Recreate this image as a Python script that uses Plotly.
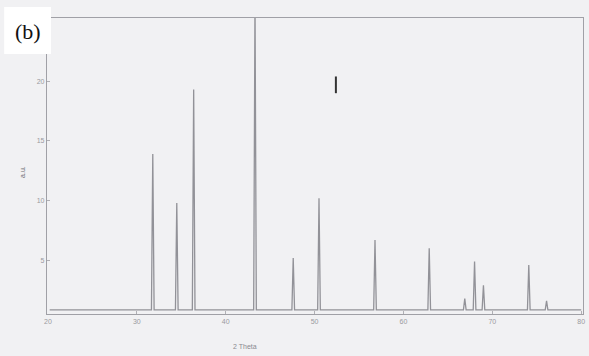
import plotly.graph_objects as go

# peak positions (2theta, deg) and heights (a.u.)
peak_pos = [31.8, 34.5, 36.4, 43.3, 47.6, 50.5, 56.8, 62.9, 66.9, 68.0, 69.0, 74.1, 76.1]
peak_height = [13.9, 9.8, 19.3, 27.0, 5.2, 10.2, 6.7, 6.0, 1.8, 4.9, 2.9, 4.6, 1.6]
baseline = 0.85
x_start, x_end = 20.2, 80.0
x_ticks = [20, 30, 40, 50, 60, 70, 80]
y_ticks = [5, 10, 15, 20]
half_width = 0.15

# build the polyline from the peak table
xs = [x_start]
ys = [baseline]
for p, h in zip(peak_pos, peak_height):
    xs += [p - half_width, p, p + half_width]
    ys += [baseline, h, baseline]
xs.append(x_end)
ys.append(baseline)

fig = go.Figure()
fig.add_trace(go.Scatter(x=xs, y=ys, mode="lines",
                         line=dict(color="#929298", width=1.3), hoverinfo="skip"))

axis_common = dict(showgrid=False, zeroline=False, showline=True, linecolor="#a0a0a6",
                   linewidth=1.3, mirror=True, ticks="inside", ticklen=3,
                   tickcolor="#b0b0b5", tickfont=dict(size=7, color="#9a9aa0",
                                                      family="Liberation Sans"))
fig.update_xaxes(range=[19.9, 80.2], tickvals=x_ticks, **axis_common)
fig.update_yaxes(range=[0.5, 25.3], tickvals=y_ticks, **axis_common)

# white label box "(b)"
fig.add_shape(type="rect", xref="paper", yref="paper",
              x0=(4 - 47) / 538, x1=(51 - 47) / 538,
              y0=(314 - 54) / 296, y1=(314 - 7) / 296,
              fillcolor="white", line=dict(width=0), layer="above")
fig.add_annotation(text="(b)", xref="paper", yref="paper",
                   x=(27.5 - 47) / 538, y=(314 - 31) / 296,
                   xanchor="center", yanchor="middle", showarrow=False,
                   font=dict(family="Liberation Serif", size=22, color="#111"))
fig.add_annotation(text="2 Theta", xref="paper", yref="paper", x=0.37, y=-0.09,
                   xanchor="center", yanchor="top", showarrow=False,
                   font=dict(family="Liberation Sans", size=7, color="#8a8a90"))
fig.add_annotation(text="a.u.", xref="paper", yref="paper", x=-0.055, y=0.48,
                   textangle=-90, showarrow=False,
                   font=dict(family="Liberation Sans", size=7, color="#6a6a70"))
# small cursor mark
fig.add_shape(type="line", xref="x", yref="y", x0=52.4, x1=52.4, y0=19.0, y1=20.4,
              line=dict(color="#333", width=2))

fig.update_layout(width=589, height=356,
                  margin=dict(l=47, r=4, t=18, b=42),
                  paper_bgcolor="#f1f1f3", plot_bgcolor="#f1f1f3",
                  showlegend=False)
fig.write_html("out.html")
